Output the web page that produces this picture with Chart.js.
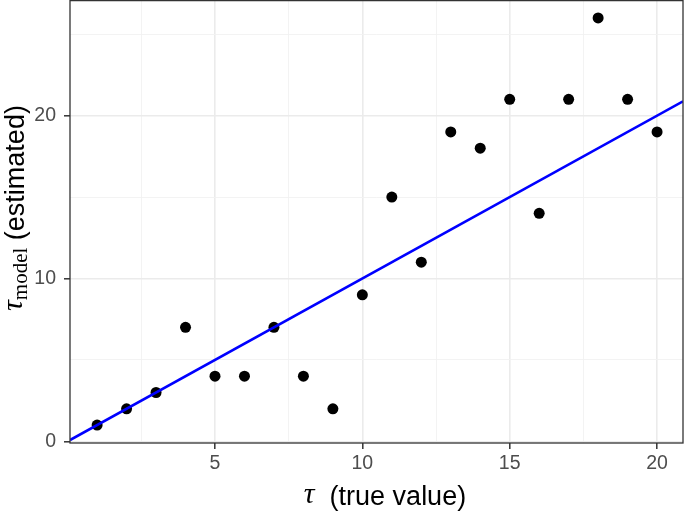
<!DOCTYPE html>
<html lang="en">
<head>
    <meta charset="UTF-8">
    <title>tau model vs true</title>
    <script src="https://cdn.jsdelivr.net/npm/chart.js"></script>
    <style>
        html, body { margin: 0; padding: 0; background: #fff; }
        #wrap { width: 685px; height: 513px; position: relative; }
    </style>
</head>
<body>
    <div id="wrap">
        <canvas id="grafico" width="685" height="513"></canvas>
    </div>

<script>
    // data
    const tauTrue = [1, 2, 3, 4, 5, 6, 7, 8, 9, 10, 11, 12, 13, 14, 15, 16, 17, 18, 19, 20];
    const tauModel = [1, 2, 3, 7, 4, 4, 7, 4, 2, 9, 15, 11, 19, 18, 21, 14, 21, 26, 21, 19];

    // reference line y = a + b*x
    const ablineIntercept = 0;
    const ablineSlope = 1;

    const xMajorTicks = [5, 10, 15, 20];
    const xMinorTicks = [2.5, 7.5, 12.5, 17.5];
    const yMajorTicks = [0, 10, 20];
    const yMinorTicks = [5, 15, 25];

    // visible axis range
    const xMin = 0.08, xMax = 20.88;
    const yMin = -0.1, yMax = 27.1;

    const gridMajor = '#ebebeb';
    const gridMinor = '#f2f2f2';

    const allX = xMajorTicks.concat(xMinorTicks).sort((a, b) => a - b);
    const allY = yMajorTicks.concat(yMinorTicks).sort((a, b) => a - b);

    const pontos = tauTrue.map((v, i) => ({ x: v, y: tauModel[i] }));
    const linha = [xMin, xMax].map(x => ({ x: x, y: ablineIntercept + ablineSlope * x }));

    const isMajorX = v => xMajorTicks.includes(v);
    const isMajorY = v => yMajorTicks.includes(v);

    const painel = {
        id: 'painel',
        afterDraw(chart) {
            const { ctx, chartArea: a } = chart;
            ctx.save();
            ctx.strokeStyle = '#333333';
            ctx.lineWidth = 1.3;
            ctx.strokeRect(a.left, a.top + 0.6, a.right - a.left, a.bottom - a.top - 0.6);

            // y title: tau_model (estimated)
            ctx.fillStyle = '#000';
            ctx.textBaseline = 'alphabetic';
            const parts = [
                { t: '\u03C4', f: 'italic 30px "Liberation Serif"', dy: -2 },
                { t: 'model', f: '21px "Liberation Serif"', dy: 3 },
                { t: ' (estimated)', f: '27px "Liberation Sans"', dy: 0 }
            ];
            let w = 0;
            parts.forEach(p => { ctx.font = p.f; p.w = ctx.measureText(p.t).width; w += p.w; });
            ctx.translate(24, 208);
            ctx.rotate(-Math.PI / 2);
            let x = -w / 2;
            parts.forEach(p => { ctx.font = p.f; ctx.fillText(p.t, x, p.dy); x += p.w; });
            ctx.restore();

            // x title: tau (true value)
            ctx.save();
            ctx.fillStyle = '#000';
            const xparts = [
                { t: '\u03C4', f: 'italic 30px "Liberation Serif"', dy: -2 },
                { t: '  (true value)', f: '27px "Liberation Sans"', dy: 0 }
            ];
            let wx = 0;
            xparts.forEach(p => { ctx.font = p.f; p.w = ctx.measureText(p.t).width; wx += p.w; });
            let xx = 385 - wx / 2;
            xparts.forEach(p => { ctx.font = p.f; ctx.fillText(p.t, xx, 505 + p.dy); xx += p.w; });
            ctx.restore();
        }
    };

    const ctx = document.getElementById('grafico').getContext('2d');

    new Chart(ctx, {
        type: 'scatter',
        data: {
            datasets: [
                {
                    type: 'line',
                    label: 'y = x',
                    data: linha,
                    borderColor: '#0000ff',
                    borderWidth: 2.6,
                    pointRadius: 0,
                    fill: false,
                    order: 0
                },
                {
                    label: 'tau',
                    data: pontos,
                    backgroundColor: '#000',
                    borderColor: '#000',
                    pointRadius: 5.5,
                    pointBorderWidth: 0,
                    order: 1
                }
            ]
        },
        options: {
            responsive: false,
            animation: false,
            layout: { autoPadding: false, padding: { left: 0, right: 2, top: 0, bottom: 0 } },
            plugins: {
                legend: { display: false },
                tooltip: { enabled: false }
            },
            scales: {
                x: {
                    type: 'linear',
                    min: xMin,
                    max: xMax,
                    afterBuildTicks: s => { s.ticks = allX.map(v => ({ value: v })); },
                    afterFit: s => { s.height = 70; s.paddingLeft = 0; s.paddingRight = 0; },
                    border: { display: false },
                    grid: {
                        color: c => isMajorX(c.tick.value) ? gridMajor : gridMinor,
                        lineWidth: c => isMajorX(c.tick.value) ? 1.6 : 0.9,
                        tickColor: c => isMajorX(c.tick.value) ? '#333333' : 'rgba(0,0,0,0)',
                        tickLength: 6,
                        tickWidth: 1.5
                    },
                    ticks: {
                        autoSkip: false,
                        maxRotation: 0,
                        padding: 3,
                        color: '#4d4d4d',
                        font: { family: 'Liberation Sans', size: 19.5 },
                        callback: v => isMajorX(v) ? String(v) : ''
                    }
                },
                y: {
                    type: 'linear',
                    min: yMin,
                    max: yMax,
                    afterBuildTicks: s => { s.ticks = allY.map(v => ({ value: v })); },
                    afterFit: s => { s.width = 70; s.paddingTop = 0; s.paddingBottom = 0; },
                    border: { display: false },
                    grid: {
                        color: c => isMajorY(c.tick.value) ? gridMajor : gridMinor,
                        lineWidth: c => isMajorY(c.tick.value) ? 1.6 : 0.9,
                        tickColor: c => isMajorY(c.tick.value) ? '#333333' : 'rgba(0,0,0,0)',
                        tickLength: 6,
                        tickWidth: 1.5
                    },
                    ticks: {
                        autoSkip: false,
                        padding: 8,
                        color: '#4d4d4d',
                        font: { family: 'Liberation Sans', size: 19.5 },
                        callback: v => isMajorY(v) ? String(v) : ''
                    }
                }
            }
        },
        plugins: [painel]
    });
</script>
</body>
</html>
